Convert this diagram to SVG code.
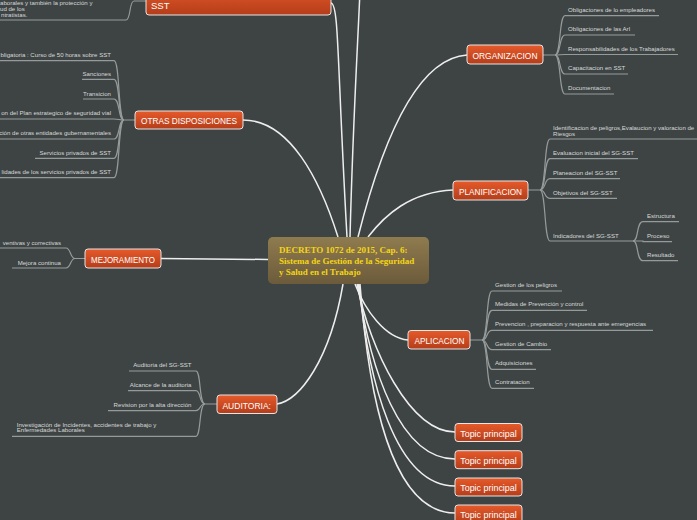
<svg xmlns="http://www.w3.org/2000/svg" width="697" height="520" viewBox="0 0 697 520">
<defs>
<linearGradient id="og" x1="0" y1="0" x2="0" y2="1"><stop offset="0" stop-color="#e65a2a"/><stop offset="1" stop-color="#b43d1a"/></linearGradient>
<linearGradient id="cg" x1="0" y1="0" x2="0" y2="1"><stop offset="0" stop-color="#8f7b4f"/><stop offset="1" stop-color="#6c5b3b"/></linearGradient>
<style>
.bg{fill:#3e4343}
.main{fill:none;stroke:#eeeeee;stroke-width:1.5}
.leaf{fill:none;stroke:#959b9b;stroke-width:1.2}
.node rect{fill:url(#og);stroke:#e6e6e6;stroke-width:1}
.nt{font-family:"Liberation Sans",Arial,sans-serif;font-size:9.5px;fill:#ffffff;text-anchor:middle}
.lt{font-family:"Liberation Sans",Arial,sans-serif;font-size:6.1px;fill:#d6dada}
.end{text-anchor:end}
.ct{font-family:"Liberation Serif","Times New Roman",serif;font-size:9px;font-weight:bold;fill:#f3d516}
</style>
</defs>
<rect class="bg" x="0" y="0" width="697" height="520"/>

<g id="connectors">
  <path class="main" d="M331,3 C339,4 337,60 347,237"/>
  <path class="main" d="M350,237 C353,120 358,40 360,-10"/>
  <path class="main" d="M243,120 C290,120 320,180 338,237"/>
  <path class="main" d="M467,55 C420,58 385,130 358,237"/>
  <path class="main" d="M453,190 C410,192 385,215 368,237"/>
  <path class="main" d="M161,258.5 L268,259.5"/>
  <path class="main" d="M277,404 C300,400 330,360 343,284"/>
  <path class="main" d="M408,340 C385,338 365,310 355,284"/>
  <path class="main" d="M357,284 C370,350 410,432 455,432"/>
  <path class="main" d="M358,284 C370,370 400,459 455,459"/>
  <path class="main" d="M359,284 C368,380 395,486 455,486"/>
  <path class="main" d="M360,284 C368,390 390,513 455,513"/>
  <path class="leaf" d="M146,1 H134 C129,1 131,20 126,20 H0"/>
  <path class="leaf" d="M543,55 H555 C561,55 559,15.7 565,15.7 H659"/>
  <path class="leaf" d="M555,55 C561,55 559,35 565,35 H635"/>
  <path class="leaf" d="M555,55 C560,55 560,54.5 565,54.5 H678"/>
  <path class="leaf" d="M555,55 C561,55 559,74 565,74 H628"/>
  <path class="leaf" d="M555,55 C561,55 559,94 565,94 H614"/>
  <path class="leaf" d="M528,190 H540 C546,190 544,139 550,139 H700"/>
  <path class="leaf" d="M540,190 C546,190 544,158.7 550,158.7 H638"/>
  <path class="leaf" d="M540,190 C546,190 544,178.7 550,178.7 H620"/>
  <path class="leaf" d="M540,190 C546,190 544,198.3 550,198.3 H617"/>
  <path class="leaf" d="M540,190 C546,190 544,241 550,241 H633"/>
  <path class="leaf" d="M633,241 C639,241 636,221.7 643,221.7 H679"/>
  <path class="leaf" d="M633,241 H643 L643,241.7 H672"/>
  <path class="leaf" d="M633,241 C639,241 636,260.7 643,260.7 H678"/>
  <path class="leaf" d="M470,340 H482 C488,340 486,291 492,291 H562"/>
  <path class="leaf" d="M482,340 C488,340 486,310.3 492,310.3 H587"/>
  <path class="leaf" d="M482,340 C488,340 486,330.3 492,330.3 H653"/>
  <path class="leaf" d="M482,340 C488,340 486,349.7 492,349.7 H551"/>
  <path class="leaf" d="M482,340 C488,340 486,369.3 492,369.3 H536"/>
  <path class="leaf" d="M482,340 C488,340 486,388.3 492,388.3 H534"/>
  <path class="leaf" d="M135,120 H124 C118,120 120,60.7 114,60.7 H0"/>
  <path class="leaf" d="M124,120 C118,120 120,79.3 114,79.3 H82"/>
  <path class="leaf" d="M124,120 C118,120 120,99 114,99 H83"/>
  <path class="leaf" d="M124,120 C119,120 119,119 114,119 H0"/>
  <path class="leaf" d="M124,120 C118,120 120,139 114,139 H0"/>
  <path class="leaf" d="M124,120 C118,120 120,158.3 114,158.3 H35"/>
  <path class="leaf" d="M124,120 C118,120 120,177.7 114,177.7 H0"/>
  <path class="leaf" d="M85,258.5 H75 C70,258.5 71,248 66,248 H0"/>
  <path class="leaf" d="M75,258.5 C70,258.5 71,268 66,268 H12"/>
  <path class="leaf" d="M217,404 H205 C199,404 201,371 196,371 H129"/>
  <path class="leaf" d="M205,404 C199,404 201,390.7 196,390.7 H128"/>
  <path class="leaf" d="M205,404 C199,404 201,410.7 196,410.7 H108"/>
  <path class="leaf" d="M205,404 C199,404 201,436.3 196,436.3 H12"/>
</g>

<g id="center">
  <rect x="268" y="237" width="161" height="47" rx="5" fill="url(#cg)"/>
  <text class="ct" x="279" y="252.5">DECRETO 1072 de 2015, Cap. 6:</text>
  <text class="ct" x="279" y="264">Sistema de Gestión de la Seguridad</text>
  <text class="ct" x="279" y="275">y Salud en el Trabajo</text>
</g>

<g id="node-sst" class="node">
  <rect x="146" y="-15" width="185" height="30" rx="3"/>
  <text class="nt" x="151" y="9" style="text-anchor:start">SST</text>
</g>
<g id="leaf-topleft">
  <text class="lt" x="0" y="4.5">aborales y también la protección y</text>
  <text class="lt" x="0" y="10.5">ud de los</text>
  <text class="lt" x="1" y="16.5">ntratistas.</text>
</g>

<g id="node-organizacion" class="node">
  <rect x="467" y="45" width="76" height="19" rx="3"/>
  <text class="nt" x="505" y="58.5" textLength="65" lengthAdjust="spacingAndGlyphs">ORGANIZACION</text>
</g>
<g id="leaves-organizacion">
  <text class="lt" x="568" y="12">Obligaciones de lo empleadores</text>
  <text class="lt" x="568" y="31">Obligaciones de las Arl</text>
  <text class="lt" x="568" y="50.5">Responsabilidades de los Trabajadores</text>
  <text class="lt" x="568" y="70">Capacitacion en SST</text>
  <text class="lt" x="568" y="90">Documentacion</text>
</g>

<g id="node-planificacion" class="node">
  <rect x="453" y="181" width="75" height="19" rx="3"/>
  <text class="nt" x="490.5" y="194.5" textLength="63" lengthAdjust="spacingAndGlyphs">PLANIFICACION</text>
</g>
<g id="leaves-planificacion">
  <text class="lt" x="553" y="130">Identificacion de peligros,Evalaucion y valoracion de</text>
  <text class="lt" x="553" y="135.5">Riesgos</text>
  <text class="lt" x="553" y="155">Evaluacion inicial del SG-SST</text>
  <text class="lt" x="553" y="175">Planeacion del SG-SST</text>
  <text class="lt" x="553" y="194.5">Objetivos del SG-SST</text>
  <text class="lt" x="553" y="237.5">Indicadores del SG-SST</text>
  <text class="lt" x="647" y="218">Estructura</text>
  <text class="lt" x="647" y="238">Proceso</text>
  <text class="lt" x="647" y="257">Resultado</text>
</g>

<g id="node-otras" class="node">
  <rect x="135" y="111" width="108" height="18" rx="3"/>
  <text class="nt" x="189" y="123.5" textLength="96" lengthAdjust="spacingAndGlyphs">OTRAS DISPOSICIONES</text>
</g>
<g id="leaves-otras">
  <text class="lt end" x="111" y="57">bligatoria : Curso de 50 horas sobre SST</text>
  <text class="lt end" x="111" y="76">Sanciones</text>
  <text class="lt end" x="111" y="95.5">Transicion</text>
  <text class="lt end" x="111" y="115">on del Plan estrategico de seguridad vial</text>
  <text class="lt end" x="111" y="135">ción de otras entidades gubernamentales</text>
  <text class="lt end" x="111" y="154.5">Servicios privados de SST</text>
  <text class="lt end" x="111" y="174">lidades de los servicios privados de SST</text>
</g>

<g id="node-mejoramiento" class="node">
  <rect x="85" y="249" width="76" height="19" rx="3"/>
  <text class="nt" x="123" y="262.5" textLength="64" lengthAdjust="spacingAndGlyphs">MEJORAMIENTO</text>
</g>
<g id="leaves-mejoramiento">
  <text class="lt end" x="61" y="244.5">ventivas y correctivas</text>
  <text class="lt end" x="61" y="264.5">Mejora continua</text>
</g>

<g id="node-aplicacion" class="node">
  <rect x="408" y="330.5" width="62" height="18.5" rx="3"/>
  <text class="nt" x="439.5" y="344" textLength="50" lengthAdjust="spacingAndGlyphs">APLICACION</text>
</g>
<g id="leaves-aplicacion">
  <text class="lt" x="495" y="287">Gestion de los peligros</text>
  <text class="lt" x="495" y="306.3">Medidas de Prevención y control</text>
  <text class="lt" x="495" y="326.3">Prevencion , preparacion y respuesta ante emergencias</text>
  <text class="lt" x="495" y="345.7">Gestion de Cambio</text>
  <text class="lt" x="495" y="365.3">Adquisiciones</text>
  <text class="lt" x="495" y="384.3">Contratacion</text>
</g>

<g id="node-auditoria" class="node">
  <rect x="217" y="395" width="60" height="18.5" rx="3"/>
  <text class="nt" x="246.7" y="408.5" textLength="48.5" lengthAdjust="spacingAndGlyphs">AUDITORIA:</text>
</g>
<g id="leaves-auditoria">
  <text class="lt end" x="191.5" y="367.3">Auditoria del SG-SST</text>
  <text class="lt end" x="191.5" y="387">Alcance de la auditoria</text>
  <text class="lt end" x="191.5" y="406.7">Revision por la alta dirección</text>
  <text class="lt" x="16.7" y="426.5">Investigación de Incidentes, accidentes  de trabajo y</text>
  <text class="lt" x="16.7" y="432.3">Enfermedades Laborales</text>
</g>

<g id="node-topic1" class="node">
  <rect x="455" y="423.5" width="67" height="18" rx="3"/>
  <text class="nt" x="488.5" y="436.5" textLength="56.5" lengthAdjust="spacingAndGlyphs">Topic principal</text>
</g>
<g id="node-topic2" class="node">
  <rect x="455" y="450.7" width="67" height="18" rx="3"/>
  <text class="nt" x="488.5" y="463.7" textLength="56.5" lengthAdjust="spacingAndGlyphs">Topic principal</text>
</g>
<g id="node-topic3" class="node">
  <rect x="455" y="478" width="67" height="18" rx="3"/>
  <text class="nt" x="488.5" y="491" textLength="56.5" lengthAdjust="spacingAndGlyphs">Topic principal</text>
</g>
<g id="node-topic4" class="node">
  <rect x="455" y="505" width="67" height="18" rx="3"/>
  <text class="nt" x="488.5" y="518" textLength="56.5" lengthAdjust="spacingAndGlyphs">Topic principal</text>
</g>
</svg>
